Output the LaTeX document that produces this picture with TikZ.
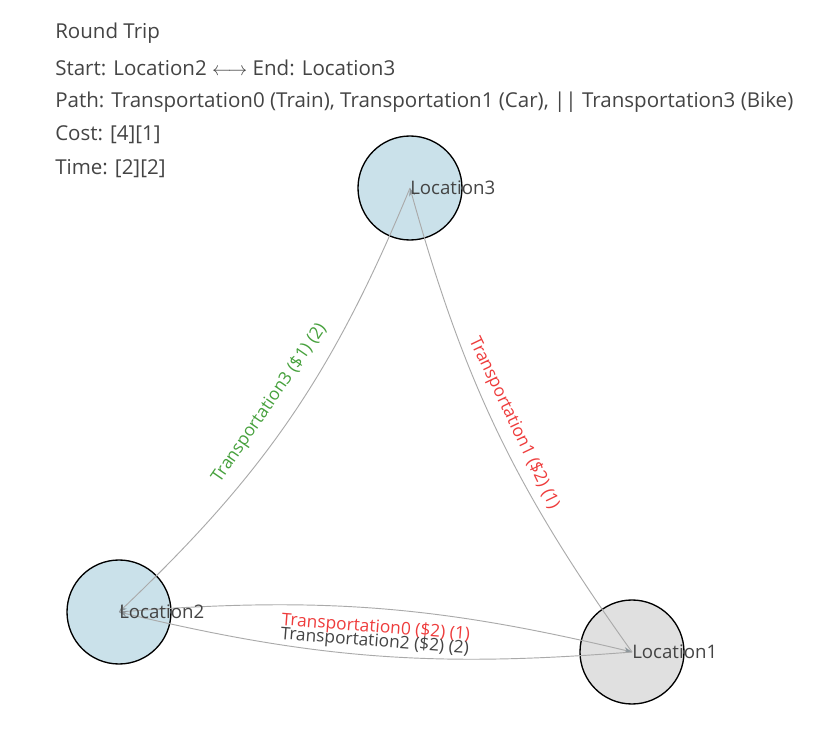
\documentclass[tikz,border=0pt]{standalone}
\usepackage{fontspec}
\setmainfont{Open Sans}
\usetikzlibrary{positioning}
\usetikzlibrary{arrows.meta}
\definecolor{stoppblaa}{RGB}{202,225,234}
\definecolor{stoppgraa}{RGB}{224,224,224}
\definecolor{tekstgraa}{RGB}{68,68,68}
\definecolor{kantgraa}{RGB}{170,170,170}
\definecolor{pilgraa}{RGB}{140,150,155}
\definecolor{ruterod}{RGB}{238,60,60}
\definecolor{rutegronn}{RGB}{70,160,60}
\begin{document}
\begin{tikzpicture}[%
x=0.75pt, y=-0.75pt,
stopp/.style={circle,draw=black,line width=1pt,minimum size=78pt,inner sep=0pt},
rute/.style={draw=kantgraa,line width=0.7pt,-{Stealth[length=6pt,width=4.5pt,color=pilgraa]}},
stoppnavn/.style={anchor=west,inner sep=0pt,text=tekstgraa,font=\fontsize{14}{16}\selectfont},
rutetekst/.style={sloped,inner sep=0pt,font=\fontsize{13}{15}\selectfont},
overskrift/.style={anchor=west,inner sep=0pt,text=tekstgraa,font=\fontsize{15.4}{18}\selectfont}]
\useasboundingbox (0,0) rectangle (836,738);
% overskrift
\node [overskrift] (tittel) at (55,33)  {Round Trip};
\node [overskrift] (start)  at (55,68)  {Start: Location2 $\longleftrightarrow$ End: Location3};
\node [overskrift] (sti)    at (55,102) {Path: Transportation0 (Train), Transportation1 (Car), || Transportation3 (Bike)};
\node [overskrift] (kost)   at (55,135) {Cost: [4][1]};
\node [overskrift] (tid)    at (55,169) {Time: [2][2]};
% steder
\node [stopp, fill=stoppblaa] (loc3) at (410,188) {};
\node [stopp, fill=stoppblaa] (loc2) at (119,612) {};
\node [stopp, fill=stoppgraa] (loc1) at (632,652) {};
% ruter
\draw [rute] (loc2.center) to [bend left=9]  (loc1.center);
\draw [rute] (loc1.center) to [bend left=9]  (loc2.center);
\draw [rute] (loc1.center) to [bend left=10] (loc3.center);
\draw [rute] (loc3.center) to [bend left=12] (loc2.center);
% rutetekster
\path (loc2.center) -- node [rutetekst, text=ruterod, yshift=3pt]     (t0) {Transportation0 (\$2) (1)}
                       node [rutetekst, text=tekstgraa, yshift=-7.5pt] (t2) {Transportation2 (\$2) (2)} (loc1.center);
\path (loc3.center) -- node [rutetekst, text=ruterod, yshift=-6pt]    (t1) {Transportation1 (\$2) (1)} (loc1.center);
\path (loc2.center) -- node [rutetekst, text=rutegronn, yshift=-4.5pt] (t3) {Transportation3 (\$1) (2)} (loc3.center);
% stedsnavn
\node [stoppnavn] (n3) at (loc3.center) {Location3};
\node [stoppnavn] (n2) at (loc2.center) {Location2};
\node [stoppnavn] (n1) at (loc1.center) {Location1};
\end{tikzpicture}
\end{document}
